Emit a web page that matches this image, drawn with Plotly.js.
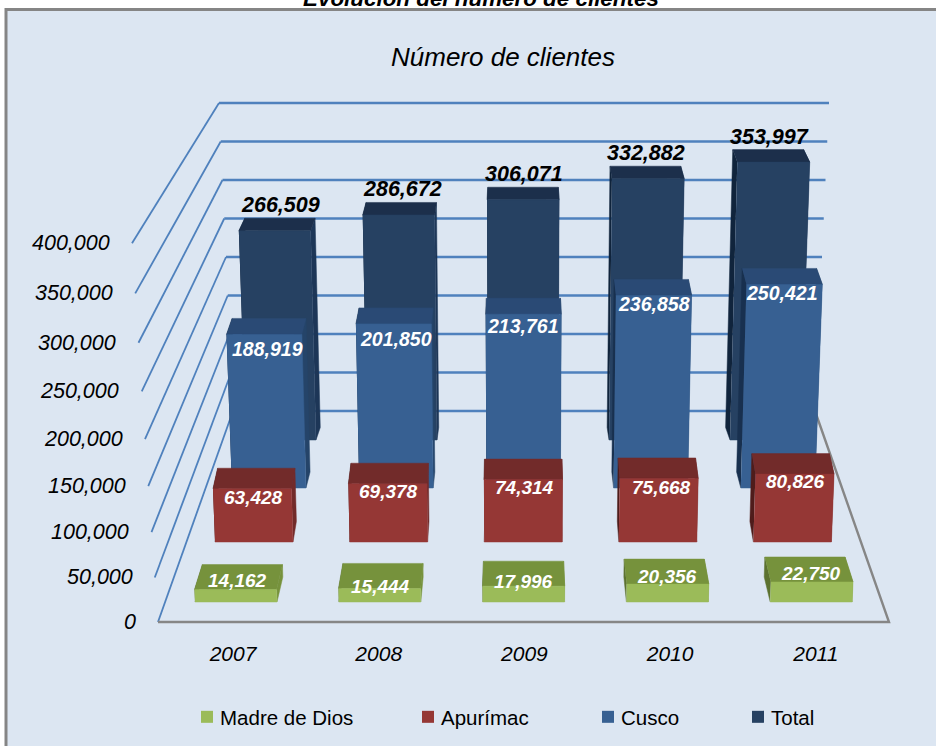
<!DOCTYPE html>
<html>
<head>
<meta charset="utf-8">
<script src="https://cdn.plot.ly/plotly-3.0.1.min.js"></script>
<style>html,body{margin:0;padding:0;background:#fff}#c{width:936px;height:746px}</style>
</head>
<body>
<div id="c"></div>
<script>
// ---- data ----
const years = ['2007','2008','2009','2010','2011'];
const madreDeDios = [14162,15444,17996,20356,22750];
const apurimac = [63428,69378,74314,75668,80826];
const cusco = [188919,201850,213761,236858,250421];
const total = [266509,286672,306071,332882,353997];
const yTicks = [0,50000,100000,150000,200000,250000,300000,350000,400000];

// ---- label nudges (px) ----
const dxMadre=[1,1,0,0,0],  dyMadre=[9.5,2,5,8,8];
const dxApu=[-1,0,1,4,3],   dyApu=[-9,-8,-8,-9,-7];
const dxCusco=[-2,0,0,3,4], dyCusco=[-15,-15,-12,-9,-9];
const dxTotal=[-1,0,1,2,4], dyTotal=[26,26,26,26,25];

const W=936,H=746;
const PIVOT=520,LEAN=8000;
const fmt=v=>String(v).replace(/\B(?=(\d{3})+$)/g,',');

// per-depth-row projection settings
const rows=[
 {name:'Total',vals:total,dx:dxTotal,dy:dyTotal,c0:281,sp:121,w:70,base:440,s:0.000785,d:12.5,k:0.021,
  front:'#264162',top:'#1c2f4b',sl:'#10243c',sr:'#1d3657',txt:'#000000',fs:21.5,lx:752},
 {name:'Cusco',vals:cusco,dx:dxCusco,dy:dyCusco,c0:269,sp:127.2,w:74,base:488,s:0.000813,d:16,k:0.019,
  front:'#376092',top:'#2a4a75',sl:'#18304f',sr:'#254469',txt:'#ffffff',fs:19.5,lx:602},
 {name:'Apurímac',vals:apurimac,dx:dxApu,dy:dyApu,c0:254,sp:134.6,w:78,base:542,s:0.00084,d:20.5,k:0.015,
  front:'#953735',top:'#722b2a',sl:'#4f1c1b',sr:'#722b2a',txt:'#ffffff',fs:19,lx:422},
 {name:'Madre de Dios',vals:madreDeDios,dx:dxMadre,dy:dyMadre,c0:236,sp:143.8,w:82,base:602,s:0.00088,d:25,k:0.024,
  front:'#9bbb59',top:'#76923c',sl:'#5c7230',sr:'#76923c',txt:'#ffffff',fs:19,lx:201}
];

const traces=[],annotations=[];
const layout={
  width:W,height:H,margin:{l:0,r:0,t:0,b:0},
  paper_bgcolor:'#ffffff',plot_bgcolor:'rgba(0,0,0,0)',
  barmode:'overlay',showlegend:true,hovermode:false,
  font:{family:'"Liberation Sans",Arial,sans-serif',color:'#000'},
  title:{text:'Número de clientes',x:503/W,xanchor:'center',y:1-57/H,yanchor:'middle',
         font:{size:26,style:'italic',color:'#000'}},
  shapes:[{type:'rect',xref:'paper',yref:'paper',layer:'below',
    x0:6/W,x1:960/W,y0:1-9.5/H,y1:-20/H,fillcolor:'#dce6f2',line:{color:'#858585',width:3}}],
  annotations
};

// ---- wall subplot (drawn first) ----
const WX0=233,WSP=145.7,WBASE=411,WS=0.00077;
const wx=p=>(p-WX0)/WSP, wy=p=>(WBASE-p)/WS;
layout.xaxis={range:[wx(0),wx(W)],visible:true,anchor:'free',position:1-639/H,
  tickmode:'array',tickvals:years.map((_,i)=>i),ticktext:years,showgrid:false,zeroline:false,showline:false,
  ticks:'',ticklen:0,tickangle:0,tickfont:{size:21,style:'italic',color:'#000'},fixedrange:true};
layout.yaxis={range:[wy(H),wy(0)],visible:false,fixedrange:true};

const backL=v=>233-14*v/400000, backR=v=>815+14*v/400000;
const frontX=v=>158-26*v/400000;
const frontY=v=>{const u=v/50000;return 622-44.1*u-0.406*u*u;};
const gx=[],gy=[],lx=[],ly=[];
yTicks.forEach(v=>{
  gx.push(wx(backL(v)),wx(backR(v)),null); gy.push(v,v,null);
  lx.push(wx(frontX(v)),wx(backL(v)),null); ly.push(wy(frontY(v)),v,null);
  annotations.push({xref:'x',yref:'y',x:wx(frontX(v)-(v===0?20:v<=50000?19.5:20.5)),y:wy(frontY(v)),
    text:fmt(v),showarrow:false,xanchor:'right',yanchor:'middle',font:{size:21.5,style:'italic',color:'#000'}});
});
const ln=(x,y,c,w)=>({type:'scatter',mode:'lines',x,y,xaxis:'x',yaxis:'y',showlegend:false,hoverinfo:'skip',line:{color:c,width:w}});
traces.push(ln(gx,gy,'#4f81bd',2.3));
traces.push(ln(lx,ly,'#4f81bd',1.8));
// floor edges, gray
traces.push(ln([wx(158),wx(889),wx(backR(0))],[wy(622),wy(622),0],'#868686',2.4));

// ---- one full-canvas subplot for each depth row ----
rows.forEach((g,idx)=>{
  const n=idx+2, xa='x'+n, ya='y'+n;
  const dxOf=p=>(p-g.c0)/g.sp;
  layout['xaxis'+n]={range:[dxOf(0),dxOf(W)],visible:false,anchor:ya,fixedrange:true};
  layout['yaxis'+n]={range:[(g.base-H)/g.s,g.base/g.s],visible:false,anchor:xa,fixedrange:true};
  const lg=idx===0?'legend':'legend'+(idx+1);
  layout[lg]={x:(g.lx-6)/W,xanchor:'left',y:1-717/H,yanchor:'middle',orientation:'h',
    bgcolor:'rgba(0,0,0,0)',borderwidth:0,indentation:-15,font:{size:20.5,color:'#000'}};

  const F=(i,side,v)=>{const x0=g.c0+i*g.sp+side*g.w/2;return x0+(x0-PIVOT)*v*g.s/LEAN;};
  const B=p=>p+(PIVOT-p)*g.k;
  const sideX=[],sideY=[],sideRX=[],sideRY=[],topX=[],topY=[],frX=[],frY=[];
  const dv=g.d/g.s;
  g.vals.forEach((v,i)=>{
    const fl0=F(i,-1,0),fr0=F(i,1,0),fl=F(i,-1,v),fr=F(i,1,v);
    sideX.push(dxOf(fl0),dxOf(B(fl0)),dxOf(B(fl)),dxOf(fl),null); sideY.push(0,dv,v+dv,v,null);
    sideRX.push(dxOf(fr0),dxOf(B(fr0)),dxOf(B(fr)),dxOf(fr),null); sideRY.push(0,dv,v+dv,v,null);
    topX.push(dxOf(fl),dxOf(fr),dxOf(B(fr)),dxOf(B(fl)),null); topY.push(v,v,v+dv,v+dv,null);
    frX.push(dxOf(fl0),dxOf(fr0),dxOf(fr),dxOf(fl),null); frY.push(0,0,v,v,null);
    annotations.push({xref:xa,yref:ya,x:i,y:v,text:fmt(v),showarrow:false,xanchor:'center',yanchor:'middle',
      xshift:g.dx[i],yshift:g.dy[i],font:{size:g.fs,style:'italic',weight:'bold',color:g.txt}});
  });
  // the bar itself carries the values and the legend entry
  traces.push({type:'bar',name:g.name,x:years.map((_,i)=>i),y:g.vals,xaxis:xa,yaxis:ya,width:(g.w-24)/g.sp,
    marker:{color:g.front,line:{width:0}},hoverinfo:'skip',legend:lg});
  const poly=(x,y,c)=>traces.push({type:'scatter',mode:'lines',x,y,xaxis:xa,yaxis:ya,fill:'toself',fillcolor:c,
    line:{color:c,width:0.5},showlegend:false,hoverinfo:'skip'});
  poly(sideX,sideY,g.sl);
  poly(sideRX,sideRY,g.sr);
  poly(topX,topY,g.top);
  poly(frX,frY,g.front);
});

// clipped report heading above the frame
annotations.push({xref:'paper',yref:'paper',x:481/W,y:1-(-2)/H,yanchor:'middle',xanchor:'center',showarrow:false,
  text:'Evolución del número de clientes',font:{size:22.4,style:'italic',weight:'bold',color:'#000'}});

Plotly.newPlot('c',traces,layout,{displayModeBar:false,staticPlot:true}).then(()=>{
  // bring each legend key closer to its text, as in the reference
  document.querySelectorAll('#c .legendsymbols').forEach(s=>s.setAttribute('transform','translate(7,0)'));
});
</script>
</body>
</html>
